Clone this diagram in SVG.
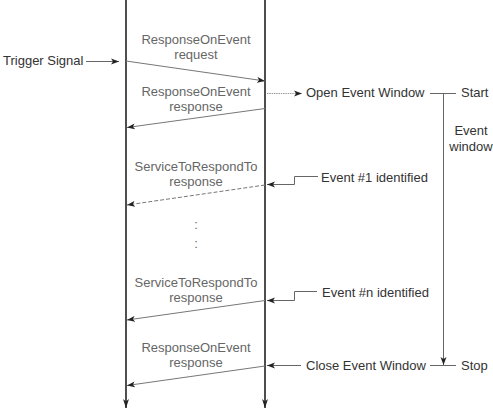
<svg xmlns="http://www.w3.org/2000/svg" width="493" height="410" viewBox="0 0 493 410">
<style>
text{font-family:"Liberation Sans",Arial,sans-serif;font-size:13px;fill:#333}
.lbl{fill:#666;text-anchor:middle}
.dark{fill:#333}
.life{stroke:#222;stroke-width:1.6;fill:none}
.msg{stroke:#777;stroke-width:1;fill:none}
.thin{stroke:#666;stroke-width:1;fill:none}
</style>
<defs>
<marker id="ah" markerWidth="9" markerHeight="7" refX="8" refY="3.5" orient="auto" markerUnits="userSpaceOnUse">
<path d="M0,0.5 L8,3.5 L0,6.5 L2,3.5 Z" fill="#222"/>
</marker>
<marker id="lh" markerWidth="8" markerHeight="10" refX="9" refY="4" orient="auto" markerUnits="userSpaceOnUse">
<path d="M0,1 L9,4 L0,7 L2.5,4 Z" fill="#222"/>
</marker>
</defs>
<g id="lifeline-left"><line class="life" x1="126" y1="0" x2="126" y2="408" marker-end="url(#lh)"/></g>
<g id="lifeline-right"><line class="life" x1="265" y1="0" x2="265" y2="408" marker-end="url(#lh)"/></g>
<g id="trigger"><text x="3" y="65">Trigger Signal</text></g>
<g id="open-window"><text x="306" y="97">Open Event Window</text></g>
<g id="start"><text x="461" y="97">Start</text></g>
<g id="event-window"><text class="lbl dark" x="471" y="135">Event</text><text class="lbl dark" x="471" y="151">window</text></g>
<g id="event1"><text x="321" y="182">Event #1 identified</text></g>
<g id="eventn"><text x="322" y="297">Event #n identified</text></g>
<g id="close-window"><text x="306" y="370">Close Event Window</text></g>
<g id="stop"><text x="461" y="370">Stop</text></g>
<g id="labels">
<text class="lbl" x="196" y="44">ResponseOnEvent</text>
<text class="lbl" x="196" y="59">request</text>
<text class="lbl" x="196" y="96">ResponseOnEvent</text>
<text class="lbl" x="196" y="111">response</text>
<text class="lbl" x="196" y="171">ServiceToRespondTo</text>
<text class="lbl" x="196" y="186">response</text>
<text class="lbl" x="196" y="229">:</text>
<text class="lbl" x="196" y="248">:</text>
<text class="lbl" x="196" y="287">ServiceToRespondTo</text>
<text class="lbl" x="196" y="302">response</text>
<text class="lbl" x="196" y="352">ResponseOnEvent</text>
<text class="lbl" x="196" y="367">response</text>
</g>
<g id="connectors">
<line class="thin" x1="86" y1="61.5" x2="119" y2="61.5" marker-end="url(#ah)"/>
<line class="msg" x1="126" y1="61" x2="265" y2="81" marker-end="url(#ah)"/>
<line class="msg" x1="265" y1="108.5" x2="127" y2="127.5" marker-end="url(#ah)"/>
<line x1="267" y1="93.5" x2="302" y2="93.5" stroke="#999" stroke-width="1" stroke-dasharray="1.5,0.8" marker-end="url(#ah)"/>
<line class="thin" x1="430" y1="93.5" x2="456" y2="93.5"/>
<line class="thin" x1="443.5" y1="93.5" x2="443.5" y2="365" marker-end="url(#ah)"/>
<polyline class="thin" points="318,176.5 294.5,176.5 294.5,184.5 267,184.5" marker-end="url(#ah)"/>
<line class="msg" x1="265" y1="185" x2="127" y2="205" stroke-dasharray="4,2" marker-end="url(#ah)"/>
<polyline class="thin" points="317,291.5 294.5,291.5 294.5,300.5 267,300.5" marker-end="url(#ah)"/>
<line class="msg" x1="265" y1="300.5" x2="127" y2="320" marker-end="url(#ah)"/>
<line class="thin" x1="301" y1="365.5" x2="267" y2="365.5" marker-end="url(#ah)"/>
<line class="thin" x1="430" y1="365.5" x2="456" y2="365.5"/>
<line class="msg" x1="265" y1="366" x2="127" y2="385.5" marker-end="url(#ah)"/>
</g>
</svg>
